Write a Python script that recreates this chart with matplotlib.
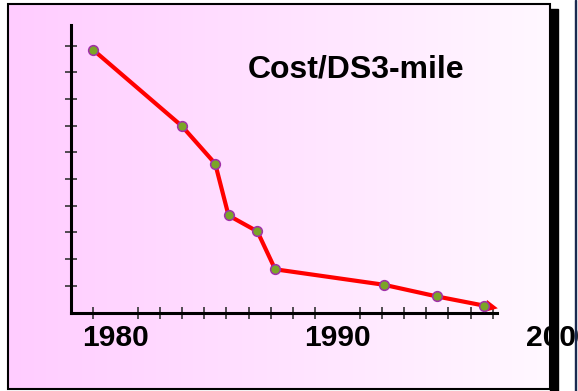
import numpy as np
import matplotlib.pyplot as plt
from matplotlib.colors import LinearSegmentedColormap
from matplotlib.patches import Rectangle

# values
years = [1979.0, 1983.0, 1984.5, 1985.1, 1986.4, 1987.2, 1992.1, 1994.5, 1996.6]
cost = [9.85, 6.99, 5.58, 3.64, 3.04, 1.62, 1.04, 0.60, 0.26]
label_years = [1980, 1990, 2000]
label_text = ['1980', '1990', '2000']
minor_years = np.arange(1979, 1998)
cost_ticks = np.arange(1, 11)
title = 'Cost/DS3-mile'

W, H = 578, 391
fig = plt.figure(figsize=(W / 100, H / 100), dpi=100)


def px_rect(x, y, w, h, **kw):
    # rectangle given in pixels from the top-left corner
    r = Rectangle((x / W, 1 - (y + h) / H), w / W, h / H, transform=fig.transFigure, **kw)
    fig.add_artist(r)
    return r


# slide-like frame with gradient fill and shadow
bg = fig.add_axes([8 / W, 1 - 389 / H, 542 / W, 385 / H])
cmap = LinearSegmentedColormap.from_list('pinkfade', ['#FFCCFF', '#FFF8FF'])
grad = np.linspace(0, 1, 256).reshape(1, -1)
bg.imshow(grad, aspect='auto', cmap=cmap, extent=[0, 1, 0, 1])
bg.axis('off')
px_rect(550, 9, 8, H - 9, color='black', zorder=5)
px_rect(8, 4, 542, 385, fill=False, ec='black', lw=1.5, zorder=5)
px_rect(574.5, 0, 1.5, H, color='#1a2a50', zorder=5)

# data axes covers the whole figure, limits chosen so the axis lines land where they do
px_year, x0 = 22.2, 337.3     # pixels per year, pixel of 1990
px_unit, y0 = 26.67, 312.5    # pixels per unit, pixel of zero
ax = fig.add_axes([0, 0, 1, 1])
ax.patch.set_alpha(0)
ax.set_xlim(1990 - x0 / px_year, 1990 + (W - x0) / px_year)
ax.set_ylim(-(H - y0) / px_unit, y0 / px_unit)

for s in ['top', 'right']:
    ax.spines[s].set_visible(False)
ax.spines['left'].set_position(('data', 1978.0))
ax.spines['bottom'].set_position(('data', 0))
ax.spines['left'].set_bounds(0, 10.78)
ax.spines['bottom'].set_bounds(1978.0, 1997.2)
ax.spines['left'].set_linewidth(2.2)
ax.spines['bottom'].set_linewidth(2.2)

ax.set_yticks(cost_ticks)
ax.set_yticklabels([])
ax.tick_params(axis='y', direction='inout', length=8, width=1.2, color='#333333')

ax.set_xticks(label_years)
ax.set_xticklabels(label_text, fontfamily='Liberation Sans', fontweight='bold', fontsize=21.6)
ax.set_xticks(minor_years, minor=True)
ax.tick_params(axis='x', which='major', length=0, pad=8)
ax.tick_params(axis='x', which='minor', direction='inout', length=8, width=1.2, color='#333333')

ax.plot(years, cost, color='red', lw=3, zorder=3, solid_joinstyle='miter')
# arrow head continuing the last segment
tip = (years[-1] + 0.3 * (years[-1] - years[-2]), cost[-1] + 0.3 * (cost[-1] - cost[-2]))
ax.annotate('', xy=tip, xytext=(years[-1], cost[-1]),
            arrowprops=dict(arrowstyle='-|>', color='red', lw=0, mutation_scale=22,
                            shrinkA=0, shrinkB=0), zorder=3)
ax.plot(years, cost, ls='none', marker='o', ms=7, mfc='#7BA428', mec='#A030A8', mew=1.1, zorder=4)

fig.text(248 / W, 1 - 77.7 / H, title, fontfamily='Liberation Sans', fontweight='bold',
         fontsize=23, ha='left', va='baseline', zorder=6)

plt.savefig('out.png', dpi=100)
plt.close()
